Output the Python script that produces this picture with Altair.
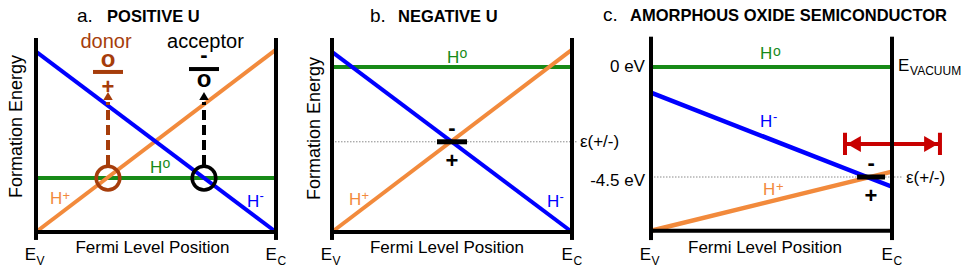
import altair as alt
import pandas as pd

FONT = "Liberation Sans"
BLUE, ORANGE, GREEN = "#0000ff", "#f28a3c", "#178a17"
BROWN, RED, BLACK, GREY = "#a63d0b", "#c80000", "#000000", "#8a8a8a"

# ---------------- data ----------------
FERMI = [0.0, 1.0]                 # E_V, E_C (relative Fermi level position)

# a. positive U  (relative formation energy)
A_HPLUS = [0.0, 0.94]
A_HMINUS = [0.93, 0.0]
A_H0 = [0.278, 0.278]
A_LEVELS = [0.30, 0.70]            # donor (+/0), acceptor (0/-) transition positions

# b. negative U
B_HPLUS = [0.0, 0.94]
B_HMINUS = [0.928, 0.0]
B_H0 = [0.851, 0.851]
B_EPS = 0.465                      # e(+/-)

# c. amorphous oxide semiconductor (eV, vacuum = 0)
C_HPLUS = [-6.7, -4.28]
C_HMINUS = [-1.05, -4.9]
C_H0 = [0.0, 0.0]
C_EPS = -4.5
C_BOTTOM = -6.7
C_ARROW = [0.805, 1.199]           # red double arrow extent (Fermi position)
C_ARROW_E = -3.15

# ---------------- layout ----------------
PAD_L, PAD_T = 3, 2
X0, X1 = 8 + PAD_L, 961            # window px covered by the plotting area
TOP, BOT = 8 + PAD_T, 265
WIDTH, HEIGHT = X1 - X0, BOT - TOP
FRAME_X = [(36, 276), (332, 572), (651, 892)]          # window px of E_V / E_C


def ydom_rel():
    # v = 0 at y=232, v = 1 at y=38
    return [(232 - BOT) / 194.0, (232 - TOP) / 194.0]


def ydom_ev():
    k = 110 / 4.5  # px per eV, 0 eV at y = 67
    return [(67 - BOT) / k, (67 - TOP) / k]


class Panel:
    def __init__(self, idx, ydom):
        l, r = FRAME_X[idx]
        self.xs = alt.Scale(domain=[(X0 - l) / (r - l), (X1 - l) / (r - l)], nice=False, zero=False)
        self.ys = alt.Scale(domain=ydom, nice=False, zero=False)
        self.layers = []

    def X(self, f="u"):
        return alt.X(f"{f}:Q", scale=self.xs, axis=None)

    def Y(self, f="v"):
        return alt.Y(f"{f}:Q", scale=self.ys, axis=None)

    def line(self, us, vs, color, sw=4.0, dash=None):
        kw = dict(color=color, strokeWidth=sw, strokeCap="butt")
        if dash:
            kw["strokeDash"] = dash
        df = pd.DataFrame({"u": us, "v": vs, "k": list(range(len(us)))})
        self.layers.append(alt.Chart(df).mark_line(**kw).encode(
            x=self.X(), y=self.Y(), order="k:Q"))

    def text(self, u, v, s, size, color=BLACK, align="left", weight="normal",
             baseline="middle", angle=None):
        kw = dict(align=align, baseline=baseline, fontSize=size, font=FONT,
                  fontWeight=weight, color=color)
        if angle is not None:
            kw["angle"] = angle
        df = pd.DataFrame({"u": [u], "v": [v], "t": [s]})
        self.layers.append(alt.Chart(df).mark_text(**kw).encode(
            x=self.X(), y=self.Y(), text="t:N"))

    def point(self, u, v, shape, size, color, filled=True, sw=1.0):
        df = pd.DataFrame({"u": [u], "v": [v]})
        self.layers.append(alt.Chart(df).mark_point(
            shape=shape, size=size, filled=filled, color=color, strokeWidth=sw,
            opacity=1).encode(x=self.X(), y=self.Y()))

    def label(self, u, v, sup, sv, color, su=None):
        self.text(u, v, "H", 17, color)
        self.text(u + 0.052 if su is None else su, sv, sup, 13 if sup != "o" else 14, color)

    def frame(self, vtop, vbot, vline, ye, ysub):
        self.line([0, 1], [vline, vline], BLACK, 4)
        self.line([0, 0], [vbot, vtop], BLACK, 4)
        self.line([1, 1], [vbot, vtop], BLACK, 4)
        self.text(0, ye, "E", 17, align="right")
        self.text(0.002, ysub, "V", 12)
        self.text(1.004, ye, "E", 17, align="right")
        self.text(1.006, ysub, "C", 12)

    def chart(self):
        return alt.layer(*self.layers)


# ---------------- panel a ----------------
pa = Panel(0, ydom_rel())
pa.line(FERMI, A_H0, GREEN)
pa.line(FERMI, A_HPLUS, ORANGE)
pa.line(FERMI, A_HMINUS, BLUE)
for u, col in zip(A_LEVELS, [BROWN, BLACK]):
    pa.point(u, A_H0[0], "circle", 560, col, filled=False, sw=3.5)
    pa.line([u, u], [0.345, 0.67], col, 4, dash=[10, 5])
    pa.point(u, 0.701, "triangle-up", 90, col)
d, a = A_LEVELS
pa.text(d, 0.747, "+", 22, BROWN, align="center", weight="bold")
pa.line([d - 0.0625, d + 0.0625], [0.825, 0.825], BROWN, 4)
pa.text(d, 0.887, "o", 24, BROWN, align="center", weight="bold")
pa.text(d - 0.008, 0.979, "donor", 20, BROWN, align="center")
pa.text(a, 0.784, "o", 24, BLACK, align="center", weight="bold")
pa.line([a - 0.0625, a + 0.0625], [0.840, 0.840], BLACK, 4)
pa.text(a, 0.912, "-", 22, BLACK, align="center", weight="bold")
pa.text(a + 0.006, 0.979, "acceptor", 20, BLACK, align="center")
pa.label(0.058, 0.168, "+", 0.186, ORANGE)
pa.label(0.475, 0.332, "o", 0.348, GREEN)
pa.label(0.879, 0.157, "-", 0.186, BLUE)
pa.text(-0.058, 0.544, "Formation Energy", 18, angle=270, align="center", baseline="alphabetic")
pa.text(0.485, -0.080, "Fermi Level Position", 17, align="center")
pa.text(0.171, 1.085, "a.", 19, baseline="alphabetic")
pa.text(0.296, 1.085, "POSITIVE U", 16.5, weight="bold", baseline="alphabetic")
pa.frame(1.0, -0.041, 0.0, -0.121, -0.147)

# ---------------- panel b ----------------
pb = Panel(1, ydom_rel())
pb.line([0, 1.02], [B_EPS, B_EPS], GREY, 1, dash=[1.5, 1.5])
pb.line(FERMI, B_H0, GREEN)
pb.line(FERMI, B_HPLUS, ORANGE)
pb.line(FERMI, B_HMINUS, BLUE)
pb.line([0.4375, 0.5625], [B_EPS, B_EPS], BLACK, 5)
pb.text(0.5, 0.536, "-", 22, align="center", weight="bold")
pb.text(0.5, 0.366, "+", 22, align="center", weight="bold")
pb.text(1.033, B_EPS, "ε(+/-)", 17)
pb.label(0.479, 0.899, "o", 0.918, GREEN)
pb.label(0.071, 0.165, "+", 0.183, ORANGE)
pb.label(0.896, 0.157, "-", 0.180, BLUE)
pb.text(-0.05, 0.534, "Formation Energy", 18, angle=270, align="center", baseline="alphabetic")
pb.text(0.479, -0.080, "Fermi Level Position", 17, align="center")
pb.text(0.158, 1.085, "b.", 19, baseline="alphabetic")
pb.text(0.275, 1.085, "NEGATIVE U", 16.5, weight="bold", baseline="alphabetic")
pb.frame(1.0, -0.041, 0.0, -0.121, -0.147)

# ---------------- panel c ----------------
pc = Panel(2, ydom_ev())
pc.line([0, 1.046], [C_EPS, C_EPS], GREY, 1, dash=[1.5, 1.5])
pc.line(FERMI, C_H0, GREEN)
pc.line(FERMI, C_HPLUS, ORANGE, 4.5)
pc.line(FERMI, C_HMINUS, BLUE, 4.5)
pc.line([0.855, 0.971], [C_EPS, C_EPS], BLACK, 5)
pc.text(0.913, -3.93, "-", 22, align="center", weight="bold")
pc.text(0.913, -5.28, "+", 22, align="center", weight="bold")
pc.line(C_ARROW, [C_ARROW_E, C_ARROW_E], RED, 4)
for u in C_ARROW:
    pc.line([u, u], [-2.69, -3.60], RED, 4)
pc.point(0.842, C_ARROW_E, "triangle-left", 256, RED)
pc.point(1.162, C_ARROW_E, "triangle-right", 256, RED)
pc.text(1.058, -4.54, "ε(+/-)", 17)
pc.text(-0.025, 0.0, "0 eV", 17, align="right")
pc.text(-0.025, -4.68, "-4.5 eV", 17, align="right")
pc.text(1.025, 0.06, "E", 17)
pc.text(1.075, -0.18, "VACUUM", 12)
pc.label(0.452, 0.55, "o", 0.63, GREEN, su=0.506)
pc.label(0.452, -2.24, "-", -2.05, BLUE, su=0.506)
pc.label(0.465, -5.03, "+", -4.89, ORANGE, su=0.519)
pc.text(0.473, -7.385, "Fermi Level Position", 17, align="center")
pc.text(-0.199, 1.88, "c.", 19, baseline="alphabetic")
pc.text(-0.087, 1.88, "AMORPHOUS OXIDE SEMICONDUCTOR", 16.5, weight="bold", baseline="alphabetic")
pc.frame(1.24, -7.08, C_BOTTOM, -7.71, -7.92)

chart = alt.layer(pa.chart(), pb.chart(), pc.chart()).resolve_scale(
    x="independent", y="independent").properties(
    width=WIDTH, height=HEIGHT,
    padding={"left": PAD_L, "top": PAD_T, "right": 0, "bottom": 0},
    autosize=alt.AutoSizeParams(type="none")).configure_view(stroke=None)

chart.save("out.html", embed_options={"renderer": "svg", "actions": False})
